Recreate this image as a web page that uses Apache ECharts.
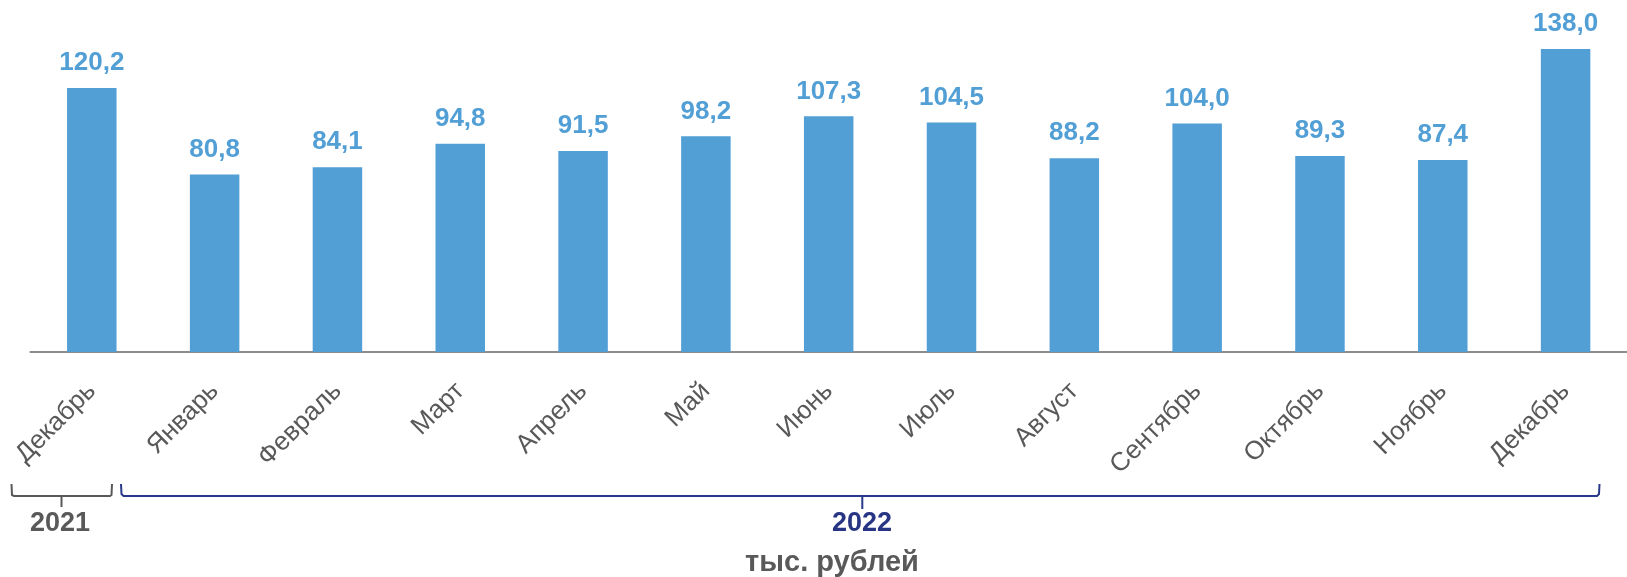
<!DOCTYPE html>
<html>
<head>
<meta charset="utf-8">
<script src="https://cdn.jsdelivr.net/npm/echarts@6/dist/echarts.min.js"></script>
<style>
html,body{margin:0;padding:0;background:#fff;}
#chart{width:1627px;height:577px;}
</style>
</head>
<body>
<div id="chart"></div>
<script>
const categories = ['Декабрь','Январь','Февраль','Март','Апрель','Май','Июнь','Июль','Август','Сентябрь','Октябрь','Ноябрь','Декабрь'];
const values = [120.2, 80.8, 84.1, 94.8, 91.5, 98.2, 107.3, 104.5, 88.2, 104.0, 89.3, 87.4, 138.0];
const yearLabels = ['2021', '2022'];
const unitLabel = 'тыс. рублей';

const FONT = 'Arial, "Liberation Sans", sans-serif';
const chart = echarts.init(document.getElementById('chart'), null, {renderer: 'canvas'});

chart.setOption({
  animation: false,
  grid: {left: 30.4, top: 22.6, width: 1607.7, height: 329.4, containLabel: false},
  xAxis: {
    type: 'category',
    data: categories,
    axisLine: {show: true, lineStyle: {color: '#8c8c8c', width: 2}},
    axisTick: {show: false},
    axisLabel: {
      rotate: 45, interval: 0, margin: 35,
      color: '#595959', fontFamily: FONT, fontSize: 26
    }
  },
  yAxis: {type: 'value', min: 0, max: 150, show: false, splitLine: {show: false}},
  series: [{
    type: 'bar',
    data: values,
    barWidth: 49.5,
    itemStyle: {color: '#529FD6'},
    label: {
      show: true, position: 'top', distance: 12,
      color: '#529FD6', fontFamily: FONT, fontWeight: 'bold', fontSize: 26,
      formatter: p => p.value.toFixed(1).replace('.', ',')
    }
  }],
  graphic: [
    {type: 'polyline', shape: {points: [[11.5,484],[12,495],[14,496],[110,496],[111.5,495],[112,484]]},
     style: {stroke: '#595959', lineWidth: 2, fill: null}},
    {type: 'line', shape: {x1: 61.5, y1: 496, x2: 61.5, y2: 507}, style: {stroke: '#595959', lineWidth: 2}},
    {type: 'polyline', shape: {points: [[121,484],[121.5,494],[123.5,496],[1597,496],[1599,494],[1599.5,484]]},
     style: {stroke: '#283A8A', lineWidth: 2, fill: null}},
    {type: 'line', shape: {x1: 862.3, y1: 496, x2: 862.3, y2: 509}, style: {stroke: '#283A8A', lineWidth: 2}},
    {type: 'text', x: 60, y: 524, style: {text: yearLabels[0], fill: '#595959', font: 'bold 27px ' + FONT, textAlign: 'center', textVerticalAlign: 'middle'}},
    {type: 'text', x: 862, y: 524, style: {text: yearLabels[1], fill: '#283583', font: 'bold 27px ' + FONT, textAlign: 'center', textVerticalAlign: 'middle'}},
    {type: 'text', x: 832, y: 563, style: {text: unitLabel, fill: '#595959', font: 'bold 29px ' + FONT, textAlign: 'center', textVerticalAlign: 'middle'}}
  ]
});
</script>
</body>
</html>
